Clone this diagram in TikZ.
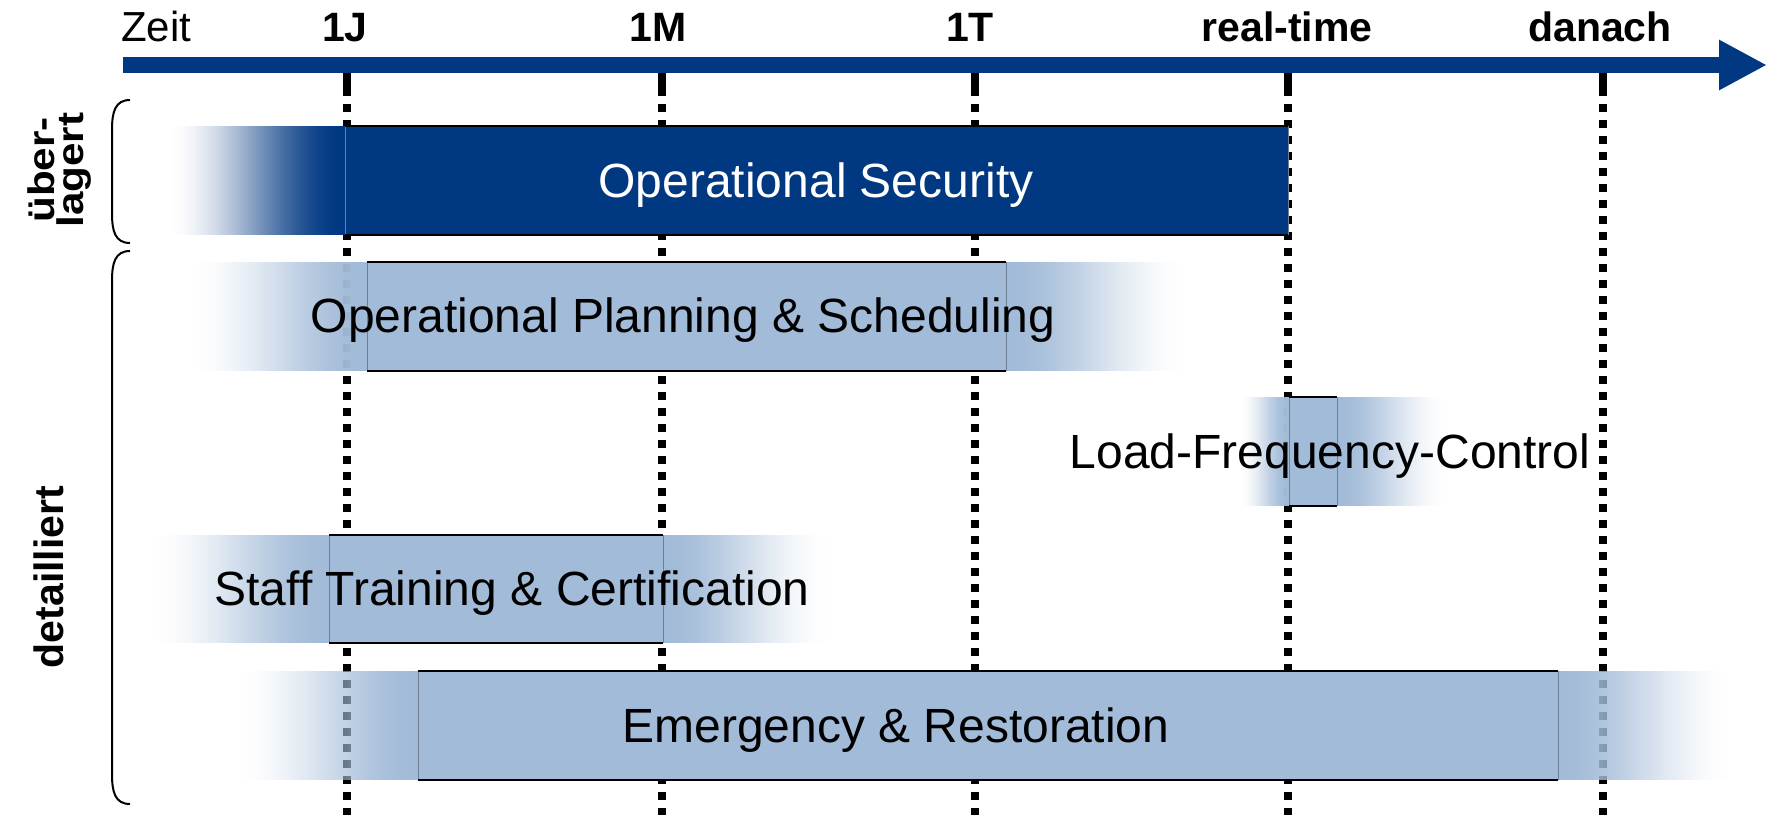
\documentclass[tikz,border=0pt]{standalone}
\usepackage{fontspec}
\usepackage{graphicx}
\setmainfont{Liberation Sans}
\usetikzlibrary{arrows.meta}
\definecolor{dblue}{HTML}{003882}
\definecolor{lblue}{HTML}{A2BBD8}
\definecolor{edgegray}{HTML}{6F7F95}
% soft band: colour, transparent end x, opaque end x, top y, bottom y
\newcommand\fadeband[5]{%
  \pgfmathtruncatemacro\fbn{abs(#3-#2)}%
  \pgfmathsetmacro\fbd{(#3-#2)/\fbn}%
  \foreach \i in {1,...,\fbn}{%
    \pgfmathsetmacro\fbt{(\i-0.5)/\fbn}%
    \pgfmathsetmacro\fba{3*\fbt*\fbt-2*\fbt*\fbt*\fbt}%
    \fill[#1, opacity=\fba] ({#2+(\i-1)*\fbd},#4) rectangle ({#2+\i*\fbd},#5);
  }%
}
\begin{document}
\begin{tikzpicture}[x=1pt,y=-1pt,
  tick/.style={line width=8pt, dash pattern=on 8pt off 8pt},
  ticktop/.style={line width=8pt},
  axlabel/.style={font=\fontsize{41}{44}\selectfont\bfseries, anchor=base, inner sep=0pt},
  boxtext/.style={font=\fontsize{48}{52}\selectfont, anchor=base, inner sep=0pt},
  sidelabel/.style={font=\fontsize{41}{44}\selectfont\bfseries, rotate=90, inner sep=0pt, align=center},
  barbox/.style={inner sep=0pt, outer sep=0pt, draw=none},
  topedge/.style={line width=2pt, black},
  sideedge/.style={line width=1pt, edgegray},
  brace/.style={line width=2pt, black}
]
\useasboundingbox (0,0) rectangle (1773,815);
\fill[white] (0,0) rectangle (1773,815);

% time axis
\coordinate (axstart) at (123,65);
\coordinate (axend) at (1767,65);
\draw[dblue, line width=16pt, -{Triangle[length=48pt,width=47pt]}] (axstart) -- (axend);

% axis labels
\node[font=\fontsize{42}{44}\selectfont, anchor=base west, inner sep=0pt] (zeit) at (121,41) {Zeit};
\node[axlabel] (l1J) at (345,41) {1J};
\node[axlabel] (l1M) at (658,41) {1M};
\node[axlabel] (l1T) at (970,41) {1T};
\node[axlabel] (lrt) at (1287,41) {real-time};
\node[axlabel] (lda) at (1600,41) {danach};

% dotted time marks
\foreach \x/\n in {347/a,662/b,975/c,1288/d,1603/e}{
  \coordinate (t\n) at (\x,73);
  \coordinate (m\n) at (\x,96);
  \coordinate (s\n) at (\x,104);
  \coordinate (b\n) at (\x,815);
  \draw[ticktop] (t\n) -- (m\n);
  \draw[tick] (s\n) -- (b\n);
}

% fading bands
\fadeband{dblue}{167}{345}{126}{235}
\fadeband{lblue}{190}{367}{262}{371}
\fadeband{lblue}{1188}{1006}{262}{371}
\fadeband{lblue}{1240}{1289}{397}{506}
\fadeband{lblue}{1448}{1337}{397}{506}
\fadeband{lblue}{150}{329}{535}{643}
\fadeband{lblue}{831}{663}{535}{643}
\fadeband{lblue}{237}{418}{671}{780}
\fadeband{lblue}{1733}{1558}{671}{780}

% boxes
\node[barbox, fill=dblue, minimum width=943pt, minimum height=109pt] (sec) at (816.5,180.5) {};
\node[barbox, fill=lblue, minimum width=639pt, minimum height=109pt] (plan) at (686.5,316.5) {};
\node[barbox, fill=lblue, minimum width=48pt, minimum height=109pt] (lfc) at (1313,451.5) {};
\node[barbox, fill=lblue, minimum width=334pt, minimum height=108pt] (staff) at (496,589) {};
\node[barbox, fill=lblue, minimum width=1140pt, minimum height=109pt] (emer) at (988,725.5) {};

\foreach \b in {sec,plan,lfc,staff,emer}{
  \draw[sideedge] (\b.north west) -- (\b.south west);
  \draw[sideedge] (\b.north east) -- (\b.south east);
  \draw[topedge] (\b.north west) -- (\b.north east);
  \draw[topedge] (\b.south west) -- (\b.south east);
}

% box texts
\node[boxtext, text=white] (sectext) at (816,197) {Operational Security};
\node[boxtext] (plantext) at (683,332) {Operational Planning \& Scheduling};
\node[boxtext] (lfctext) at (1330,468) {Load-Frequency-Control};
\node[boxtext] (stafftext) at (512,605) {Staff Training \& Certification};
\node[boxtext] (emertext) at (896,742) {Emergency \& Restoration};

% braces
\coordinate (ua) at (130,100);
\coordinate (ub) at (130,243);
\coordinate (la) at (130,251);
\coordinate (lb) at (130,804);
\draw[brace] (ua) .. controls (115,100) and (112,112) .. (112,130) -- (112,213) .. controls (112,231) and (115,243) .. (ub);
\draw[brace] (la) .. controls (115,251) and (112,263) .. (112,281) -- (112,774) .. controls (112,792) and (115,804) .. (lb);

% side labels
\node[sidelabel, font=\fontsize{37}{29}\selectfont\bfseries] (ueber) at (60,170) {\scalebox{1.14}[1]{über-}\\\scalebox{1.14}[1]{lagert}};
\node[sidelabel] (detail) at (49,577) {detailliert};
\end{tikzpicture}
\end{document}
